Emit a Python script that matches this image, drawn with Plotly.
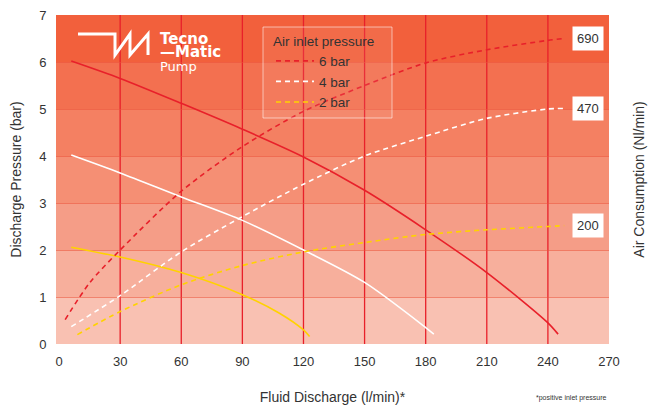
import plotly.graph_objects as go

# ---- data ----
flow_6 = [6, 30, 60, 90, 120, 150, 180, 210, 240, 245]
pres_6 = [6.02, 5.65, 5.12, 4.57, 3.98, 3.27, 2.43, 1.52, 0.45, 0.21]
flow_4 = [6, 30, 60, 90, 120, 150, 180, 184]
pres_4 = [4.02, 3.64, 3.13, 2.63, 2.0, 1.31, 0.35, 0.21]
flow_2 = [6, 30, 60, 90, 108, 120, 123]
pres_2 = [2.06, 1.85, 1.52, 1.05, 0.66, 0.30, 0.16]

air_flow_6 = [3, 15, 30, 60, 90, 120, 150, 180, 210, 240, 248]
air_6 = [0.52, 1.3, 2.0, 3.25, 4.2, 4.95, 5.5, 5.98, 6.26, 6.46, 6.5]
air_flow_4 = [6, 30, 60, 90, 120, 150, 180, 210, 240, 248]
air_4 = [0.37, 1.03, 1.96, 2.71, 3.4, 4.0, 4.42, 4.8, 5.0, 5.01]
air_flow_2 = [9, 30, 60, 90, 120, 150, 180, 210, 240, 248]
air_2 = [0.2, 0.69, 1.26, 1.67, 1.96, 2.16, 2.33, 2.43, 2.5, 2.52]

air_labels = ["690", "470", "200"]
series_names = ["6 bar", "4 bar", "2 bar"]
x_ticks = [0, 30, 60, 90, 120, 150, 180, 210, 240, 270]
y_ticks = [0, 1, 2, 3, 4, 5, 6, 7]
band_colors = ["#F9C1B2", "#F7AF9C", "#F59D87", "#F58F74", "#F48062", "#F37050", "#F2603C"]

RED = "#E8202A"
WHITE = "#FFFFFF"
YELLOW = "#FFD200"
FONT = "Liberation Sans, Arial, sans-serif"
LOGO_FONT = "DejaVu Sans, sans-serif"
TXT = "#333333"

fig = go.Figure()

# pressure curves (solid)
for fx, fy, col in [(flow_6, pres_6, RED), (flow_4, pres_4, WHITE), (flow_2, pres_2, YELLOW)]:
    fig.add_trace(go.Scatter(x=fx, y=fy, mode="lines", showlegend=False,
                             line=dict(color=col, width=1.6, shape="spline", smoothing=0.8),
                             hoverinfo="skip"))

# air consumption curves (dashed) on secondary axis
for fx, fy, col, nm in [(air_flow_6, air_6, RED, series_names[0]),
                        (air_flow_4, air_4, WHITE, series_names[1]),
                        (air_flow_2, air_2, YELLOW, series_names[2])]:
    fig.add_trace(go.Scatter(x=fx, y=fy, mode="lines", name=nm, yaxis="y2",
                             line=dict(color=col, width=1.6, dash="5px,4px", shape="spline", smoothing=0.8)))

# background bands
shapes = []
for i, c in enumerate(band_colors):
    shapes.append(dict(type="rect", xref="paper", yref="y", x0=0, x1=1, y0=y_ticks[i], y1=y_ticks[i + 1],
                       fillcolor=c, line=dict(width=0), layer="below"))
# vertical grid lines
for xv in x_ticks[1:-1]:
    shapes.append(dict(type="line", xref="x", yref="paper", x0=xv, x1=xv, y0=0, y1=1,
                       line=dict(color=RED, width=1.3), layer="below"))

# page is offset by the 8px body margin; plot area in page pixels:
PL, PR, PT, PB = 56, 609, 15, 344
OFF = 8
W, H = 662 - OFF, 407 - OFF
def px(x):
    return (x - PL) / (PR - PL)
def py(y):
    return (PB - y) / (PB - PT)

# logo mark
pts = [(78, 34), (115, 34), (115, 55), (130, 34), (130, 55), (148, 34), (148, 55)]
path = "M " + " L ".join(f"{px(a):.4f},{py(b):.4f}" for a, b in pts)
shapes.append(dict(type="path", xref="paper", yref="paper", path=path,
                   line=dict(color="white", width=3), layer="above"))

# legend frame
shapes.append(dict(type="rect", xref="paper", yref="paper", x0=px(263), x1=px(392), y0=py(118), y1=py(27),
                   fillcolor="rgba(255,255,255,0.07)", line=dict(color="rgba(255,255,255,0.55)", width=1),
                   layer="above"))

annotations = []
for txt, yy, sz in [("<b>Tecno</b>", 39, 15), ("<b>\u2014Matic</b>", 52, 15), ("Pump", 66, 13)]:
    annotations.append(dict(xref="paper", yref="paper", x=px(159), y=py(yy), text=txt,
                            showarrow=False, xanchor="left", yanchor="middle", borderpad=0,
                            font=dict(family=LOGO_FONT, size=sz, color="white")))

# end labels for air consumption
for fx, fy, lab in [(air_flow_6, air_6, air_labels[0]), (air_flow_4, air_4, air_labels[1]),
                    (air_flow_2, air_2, air_labels[2])]:
    annotations.append(dict(xref="x", yref="y2", x=fx[-1] + 4, y=fy[-1], text=lab, showarrow=False,
                            xanchor="left", yanchor="middle", bgcolor="white", borderpad=4,
                            font=dict(family=FONT, size=13, color=TXT)))

annotations.append(dict(xref="paper", yref="paper", x=1, y=py(398), text="*positive inlet pressure",
                        showarrow=False, xanchor="right", yanchor="middle",
                        font=dict(family=FONT, size=7, color=TXT)))

fig.update_layout(
    width=W, height=H,
    margin=dict(l=PL - OFF, r=662 - PR, t=PT - OFF, b=407 - PB, autoexpand=False),
    paper_bgcolor="white", plot_bgcolor="white",
    font=dict(family=FONT, size=13, color=TXT),
    shapes=shapes, annotations=annotations,
    xaxis=dict(range=[-1.5, 270], tickvals=x_ticks, showgrid=False, zeroline=False, showline=False,
               ticks="outside", ticklen=5, tickcolor="rgba(0,0,0,0)", automargin=False,
               tickfont=dict(size=13), ticklabeloverflow="allow",
               title=dict(text="Fluid Discharge (l/min)*", standoff=24, font=dict(size=14))),
    yaxis=dict(range=[0, 7], tickvals=y_ticks, showgrid=True, gridcolor="rgba(235,80,55,0.55)",
               gridwidth=1, zeroline=False, showline=False, automargin=False,
               ticks="outside", ticklen=6, tickcolor="rgba(0,0,0,0)", tickfont=dict(size=13),
               ticklabeloverflow="allow",
               title=dict(text="Discharge Pressure (bar)", standoff=14, font=dict(size=14))),
    yaxis2=dict(range=[0, 7], overlaying="y", side="right", showticklabels=False, showgrid=False,
                zeroline=False, showline=False, automargin=False,
                title=dict(text="Air Consumption (Nl/min)", standoff=25, font=dict(size=14))),
    legend=dict(x=px(271), y=py(28), xanchor="left", yanchor="top",
                bgcolor="rgba(0,0,0,0)", borderwidth=0,
                title=dict(text="Air inlet pressure", font=dict(size=13.5, color=TXT)),
                font=dict(size=13.5, color=TXT), itemwidth=38, tracegroupgap=2),
)

fig.write_html("out.html")
